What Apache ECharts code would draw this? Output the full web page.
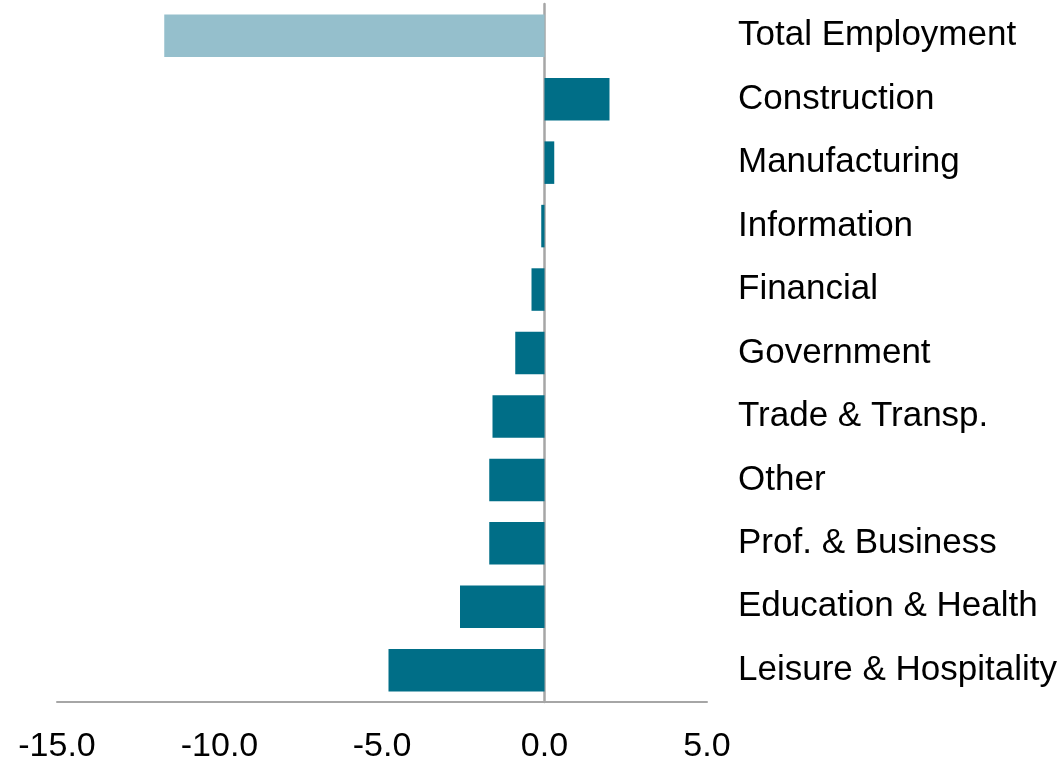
<!DOCTYPE html>
<html>
  <head>
    <meta charset="utf-8">
    <title>Employment change by sector</title>
    <script src="https://cdn.jsdelivr.net/npm/echarts@6/dist/echarts.min.js"></script>
    <style>
        *{
            padding: 0;
            margin: 0;
        }
        body{
            background-color: #ffffff;
        }
        #chart{
            width: 1059px;
            height: 761px;
        }
    </style>
  </head>
  <body>
    <div id="chart"></div>
    <script type="text/javascript">
        // sectors, top to bottom
        var sectors = ['Total Employment', 'Construction', 'Manufacturing', 'Information', 'Financial',
            'Government', 'Trade & Transp.', 'Other', 'Prof. & Business', 'Education & Health', 'Leisure & Hospitality'];
        var changes = [-11.7, 2.0, 0.3, -0.1, -0.4, -0.9, -1.6, -1.7, -1.7, -2.6, -4.8];
        var xTicks = [-15, -10, -5, 0, 5];

        var totalColor = '#95bfcc';
        var sectorColor = '#006e87';
        var gray = '#a6a6a6';
        var font = 'Liberation Sans, Arial, sans-serif';

        var barData = changes.map(function (v, i) {
            return { value: v, itemStyle: { color: i === 0 ? totalColor : sectorColor } };
        });

        var myChart = echarts.init(document.getElementById('chart'));
        var option = {
            animation: false,
            grid: { left: 57, right: 352, top: 4, bottom: 59, containLabel: false, outerBoundsMode: 'none' },
            xAxis: {
                type: 'value',
                min: xTicks[0],
                max: xTicks[xTicks.length - 1],
                interval: 5,
                axisLine: { show: true, lineStyle: { color: gray, width: 2 } },
                axisTick: { show: false },
                splitLine: { show: false },
                axisLabel: {
                    color: '#000000',
                    fontSize: 34,
                    fontFamily: font,
                    margin: 28,
                    formatter: function (v) { return v.toFixed(1); }
                }
            },
            yAxis: [{
                type: 'category',
                data: sectors,
                inverse: true,
                axisLine: { show: true, onZero: true, lineStyle: { color: gray, width: 2.5 } },
                axisTick: { show: false },
                axisLabel: { show: false }
            }, {
                type: 'category',
                data: sectors,
                inverse: true,
                position: 'right',
                axisLine: { show: false },
                axisTick: { show: false },
                axisLabel: {
                    color: '#000000',
                    fontSize: 35,
                    fontFamily: font,
                    margin: 31,
                    align: 'left',
                    padding: [6, 0, 0, 0]
                }
            }],
            series: [{
                type: 'bar',
                yAxisIndex: 0,
                data: barData,
                barCategoryGap: '33%'
            }]
        };
        myChart.setOption(option);
    </script>
  </body>
</html>
